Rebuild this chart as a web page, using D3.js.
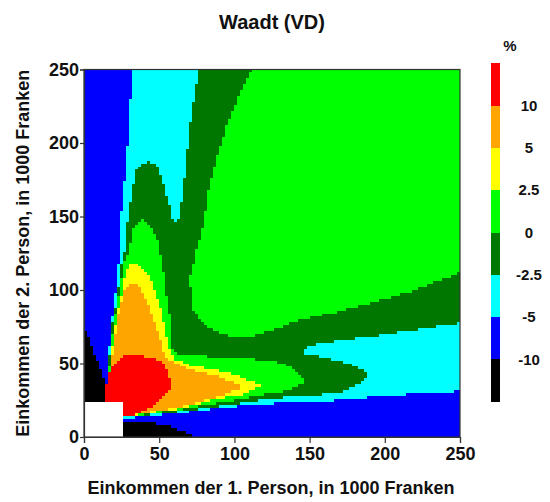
<!DOCTYPE html>
<html><head><meta charset="utf-8">
<script src="https://cdn.jsdelivr.net/npm/d3@7"></script>
<style>
body{margin:0;background:#fff;}
svg text{font-family:"Liberation Sans",Arial,Helvetica,sans-serif;font-weight:bold;fill:#111;}
</style></head><body>
<svg id="chart" width="550" height="502"></svg>
<script>
// Classes of the tax difference (%), lowest first
const classColors = ["#000000", "#0000ff", "#00ffff", "#007800", "#00ff00", "#ffff00", "#ffa500", "#ff0000"];
const legendTicks = ["-10", "-5", "-2.5", "0", "2.5", "5", "10"];
const axisTicks = [0, 50, 100, 150, 200, 250];
const baseClass = 1;            // -10 to -5 %
const cellStep = 2;             // grid step, 1000 Fr.

// Class regions, [income 1, income 2] in 1000 Fr. Later regions overlay earlier ones.
const cyanRegion = [[32.4,250],[31,230],[30,215],[28.4,188],[26.5,170],[25,154],[24.5,140],[24,127],[21.7,104],[19.5,85],[18.4,77],[16.8,60],[15.6,45],[15,36],[14.5,20],[20,20],[20,13],[35,13],[50,14.8],[64,16.3],[80,18.5],[97,20.5],[123.7,22.9],[154.7,24],[179,26.3],[216.8,29.2],[244.5,30.8],[250,32],[250,250]];
const darkGreenRegion = [[77,250],[250,250],[250,77.3],[234.5,75],[212.3,71.6],[190,68.2],[172.4,66],[152.5,62.6],[147,60.3],[147,56],[152.5,55.8],[176.9,50],[188,44.4],[188,40],[179,34.2],[168,29.7],[123.7,26.3],[97,22],[64,17.3],[45,15],[35,13.8],[20,13.5],[20,20],[15.1,20],[15.6,36],[16.2,45],[17.4,60],[19,77],[20.4,85],[22.7,100],[25,118],[27.5,127],[28.5,140],[29.5,150],[31.7,163.5],[34,178],[36,184],[42.8,187.3],[49.4,184],[52.7,172.6],[56,161],[58.3,152],[59.4,145.4],[62.7,145.4],[66,165.8],[68.3,188.4],[70.5,211],[73.8,233.8]];
const greenUpper = [[111.5,250],[250,250],[250,111.4],[234.5,105.6],[216.8,98.8],[190,91],[163.6,84.1],[143.6,79.6],[123.7,72],[110,67.5],[97,68.2],[81.6,75],[72.7,86.4],[70.5,106.8],[75,127],[79.3,143],[82.7,165.8],[88.2,188.4],[94.9,211],[103.7,233.8]];
const greenLower = [[38.4,147.6],[45,143],[49.4,134],[50.5,127],[52.7,113.6],[55,97],[57.2,81.8],[58.3,61.4],[61.6,57],[86,54.6],[123.7,52.4],[137,47.8],[148,37.6],[137,32],[123.7,29.7],[97,24.5],[64,18.8],[45,15.7],[35,14.3],[20,14],[20,20],[15.6,20],[16,36],[16.7,45],[18,60],[19.8,77],[21.2,85],[23.8,100],[26.3,118],[28.4,122],[30.6,129.4],[32.8,140.8]];
const yellowRegion = [[35,119],[40,114],[45,106.8],[51.7,86.4],[56,61.4],[60,53],[70.5,49],[97,43.3],[119,35.4],[103.7,28.4],[90,26.5],[64,19.4],[45,16.4],[35,14.8],[20,14.5],[20,20],[16.1,20],[16.5,36],[17.2,45],[18.6,60],[20.6,72],[22.2,85],[25,95],[27,108],[28.4,113.6],[31,117]];
const orangeRegion = [[34,104.5],[38,100],[41.6,93],[48.3,75],[52.7,59],[56,53],[70.5,45.6],[90.4,41],[106,34],[90.4,27.8],[64,20.2],[45,17.2],[35,15.3],[20,15],[20,20],[16.6,20],[17.1,36],[17.8,45],[19.5,60],[21,70],[22.8,82],[24.8,92],[26,97.7],[30,103]];
const redRegion = [[30.6,57],[40,55],[50.5,52.4],[55,47],[57,41],[58.3,34],[55,29],[50.5,25],[41.7,18.4],[35,15.5],[30.6,13.8],[20,13],[20,20],[14.6,20],[14.6,32],[16,43],[18.5,47],[21.7,50],[26,55]];
const blackLeft = [[0,72],[1.8,70.5],[6.2,59],[10.6,47.8],[14,36.5],[14,20],[0,20]];
const blackBottom = [[20,0],[72.5,0],[72.5,1.2],[69.6,2.5],[57.2,7],[41.6,10.2],[20,10.6]];
const noDataBox = [[0,0],[26,0],[26,24],[0,24]];

const regions = [
  {cls: 2, pts: cyanRegion},
  {cls: 3, pts: darkGreenRegion},
  {cls: 4, pts: greenUpper},
  {cls: 4, pts: greenLower},
  {cls: 5, pts: yellowRegion},
  {cls: 6, pts: orangeRegion},
  {cls: 7, pts: redRegion},
  {cls: 0, pts: blackLeft},
  {cls: 0, pts: blackBottom},
  {cls: -1, pts: noDataBox}
];

const svg = d3.select("#chart");
const x = d3.scaleLinear([0, 250], [84, 460]);
const y = d3.scaleLinear([0, 250], [437, 69.5]);
const color = c => c < 0 ? "#ffffff" : classColors[c];

function classify(px, py) {
  let c = baseClass;
  for (const r of regions) if (d3.polygonContains(r.pts, [px, py])) c = r.cls;
  return c;
}

// grid cells, merged into horizontal runs per row
const n = Math.round(250 / cellStep);
const cells = [];
for (let j = 0; j < n; j++) {
  let start = 0, cur = classify(cellStep / 2, (j + 0.5) * cellStep);
  for (let i = 1; i <= n; i++) {
    const c = i < n ? classify((i + 0.5) * cellStep, (j + 0.5) * cellStep) : null;
    if (c !== cur) {
      cells.push({x0: start * cellStep, x1: i * cellStep, y0: j * cellStep, y1: (j + 1) * cellStep, c: cur});
      start = i; cur = c;
    }
  }
}

svg.append("g").attr("shape-rendering", "crispEdges")
  .selectAll("rect").data(cells).join("rect")
  .attr("x", d => x(d.x0)).attr("width", d => x(d.x1) - x(d.x0))
  .attr("y", d => y(d.y1)).attr("height", d => y(d.y0) - y(d.y1))
  .attr("fill", d => color(d.c));

// frame
svg.append("rect").attr("x", x(0)).attr("y", y(250))
  .attr("width", x(250) - x(0)).attr("height", y(0) - y(250))
  .attr("fill", "none").attr("stroke", "#333").attr("stroke-width", 1.2);

const xAxis = svg.append("g").attr("transform", `translate(0,${y(0)})`)
  .call(d3.axisBottom(x).tickValues(axisTicks).tickSize(6).tickPadding(4).tickFormat(d3.format("d")));
const yAxis = svg.append("g").attr("transform", `translate(${x(0)},0)`)
  .call(d3.axisLeft(y).tickValues(axisTicks).tickSize(4).tickPadding(1).tickFormat(d3.format("d")));
[xAxis, yAxis].forEach(g => {
  g.select(".domain").attr("stroke", "#333").attr("stroke-width", 1.2);
  g.selectAll(".tick line").attr("stroke", "#333").attr("stroke-width", 1.2);
  g.selectAll(".tick text").style("font-size", "18px").attr("fill", "#111");
});

svg.append("text").attr("x", 272).attr("y", 29).attr("text-anchor", "middle")
  .style("font-size", "20px").text("Waadt (VD)");
svg.append("text").attr("x", 271).attr("y", 494).attr("text-anchor", "middle")
  .style("font-size", "18px").text("Einkommen der 1. Person, in 1000 Franken");
svg.append("text").attr("transform", `translate(29,${(y(0) + y(250)) / 2}) rotate(-90)`)
  .attr("text-anchor", "middle").style("font-size", "18px")
  .text("Einkommen der 2. Person, in 1000 Franken");

// colour legend
const ly = d3.scaleLinear([0, classColors.length], [401.7, 63.3]);
const legend = svg.append("g");
legend.selectAll("rect").data(classColors).join("rect")
  .attr("x", 491).attr("width", 9)
  .attr("y", (d, i) => ly(i + 1)).attr("height", (d, i) => ly(i) - ly(i + 1))
  .attr("fill", d => d).attr("shape-rendering", "crispEdges");
legend.selectAll("text").data(legendTicks).join("text")
  .attr("x", 529).attr("y", (d, i) => ly(i + 1)).attr("dy", "0.35em")
  .attr("text-anchor", "middle").style("font-size", "15px").text(d => d);
legend.append("text").attr("x", 510).attr("y", 51).attr("text-anchor", "middle")
  .style("font-size", "15px").text("%");
</script>
</body></html>
